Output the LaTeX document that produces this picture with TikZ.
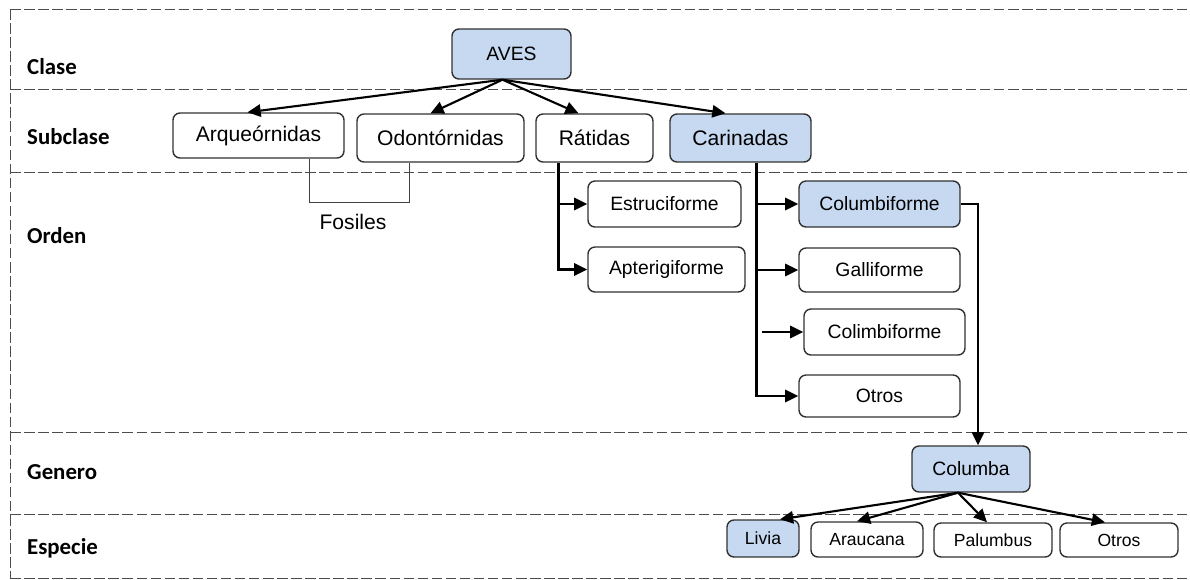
\documentclass[tikz,border=0pt]{standalone}
\usepackage{fontspec}
\setmainfont{Liberation Sans}
\newfontfamily\rowfont{Carlito}
\usetikzlibrary{arrows.meta,calc}

\definecolor{cajaazul}{RGB}{198,217,241}
\definecolor{borde}{RGB}{50,50,50}

\tikzset{
  caja/.style={draw=borde, line width=0.8pt, rounded corners=4pt, fill=white,
    inner sep=0pt, align=center, font=\fontsize{11}{13}\selectfont},
  azul/.style={caja, fill=cajaazul},
  sz/.style 2 args={minimum width=#1*0.02cm, minimum height=#2*0.02cm},
  sub/.style={font=\fontsize{12}{14}\selectfont},
  esp/.style={font=\fontsize{10}{12}\selectfont},
  flecha/.style={-{Triangle[length=7.5pt,width=7pt]}, line width=1.2pt},
  sep/.style={draw=black!70, line width=0.5pt, dash pattern=on 6pt off 2pt},
  nivel/.style={anchor=west, font=\rowfont\bfseries\fontsize{13}{15}\selectfont},
}

\begin{document}
\begin{tikzpicture}[x=0.02cm, y=-0.02cm]
  \useasboundingbox (0,0) rectangle (1190,579);

  % lignes des niveaux
  \draw[sep] (10,9) -- (10,579);
  \foreach \y in {9, 89, 172, 432, 514, 578} {
    \draw[sep] (10,\y) -- (1190,\y);
  }

  % noms des niveaux
  \node[nivel] (clase) at (21,67) {Clase};
  \node[nivel] (subclase) at (21,137) {Subclase};
  \node[nivel] (orden) at (21,236) {Orden};
  \node[nivel] (genero) at (21,472) {Genero};
  \node[nivel] (especie) at (21,548) {Especie};

  % Clase
  \node[azul, sz={119}{50}] (aves) at (511.5,54) {AVES};

  % Subclase
  \node[caja, sub, sz={171}{45}] (arq) at (258.5,135.5) {Arqueórnidas};
  \node[caja, sub, sz={167}{48}] (odon) at (440.5,138) {Odontórnidas};
  \node[caja, sub, sz={117}{48}] (rat) at (594.5,138) {Rátidas};
  \node[azul, sub, sz={141}{48}] (car) at (740.5,138) {Carinadas};

  % Orden
  \node[caja, sz={153}{46}] (est) at (664.5,204) {Estruciforme};
  \node[caja, sz={157}{45}] (apt) at (666.5,269.5) {Apterigiforme};
  \node[azul, sz={161}{46}] (colf) at (879.5,204) {Columbiforme};
  \node[caja, sz={161}{44}] (gal) at (879.5,270) {Galliforme};
  \node[caja, sz={161}{46}] (cmb) at (884.5,332) {Colimbiforme};
  \node[caja, sz={161}{42}] (otrord) at (879.5,396) {Otros};

  % Genero
  \node[azul, sz={118}{46}] (columba) at (971,469) {Columba};

  % Especie
  \node[azul, esp, sz={72}{37}] (liv) at (763,538.5) {Livia};
  \node[caja, esp, sz={112}{35}] (arau) at (867,539.5) {Araucana};
  \node[caja, esp, sz={118}{34}] (palu) at (993,540) {Palumbus};
  \node[caja, esp, sz={118}{34}] (otresp) at (1119,540) {Otros};

  % fossiles
  \draw[line width=0.6pt, draw=black!75] ($(arq.south)+(51,0)$) -- ++(0,44) -| ($(odon.south)+(-31,0)$);
  \node[sub] (fosiles) at (353,222) {Fosiles};

  % fleches
  \coordinate (avesbas) at ($(aves.south)+(-9,0)$);
  \foreach \nom/\dx in {arq/-11, odon/-10, rat/-16, car/-15} {
    \draw[flecha] (avesbas) -- ($(\nom.north)+(\dx,0)$);
  }

  \coordinate (ratbas) at ($(rat.south)+(-36,0)$);
  \draw[flecha] (ratbas) |- (apt.west);
  \draw[flecha] (ratbas |- est.west) -- (est.west);

  \coordinate (carbas) at ($(car.south)+(16,0)$);
  \draw[flecha] (carbas) |- (otrord.west);
  \foreach \nom in {colf, gal} {
    \draw[flecha] (carbas |- \nom.west) -- (\nom.west);
  }
  \coordinate (cmbin) at (762,332);
  \draw[flecha] (cmbin) -- (cmb.west);

  \draw[flecha] (colf.east) -| ($(columba.north)+(7,0)$);

  \coordinate (colbas) at ($(columba.south)+(-13,0)$);
  \foreach \nom/\dx in {liv/17, arau/-10, palu/-6, otresp/-14} {
    \draw[flecha] (colbas) -- ($(\nom.north)+(\dx,0)$);
  }

\end{tikzpicture}
\end{document}
